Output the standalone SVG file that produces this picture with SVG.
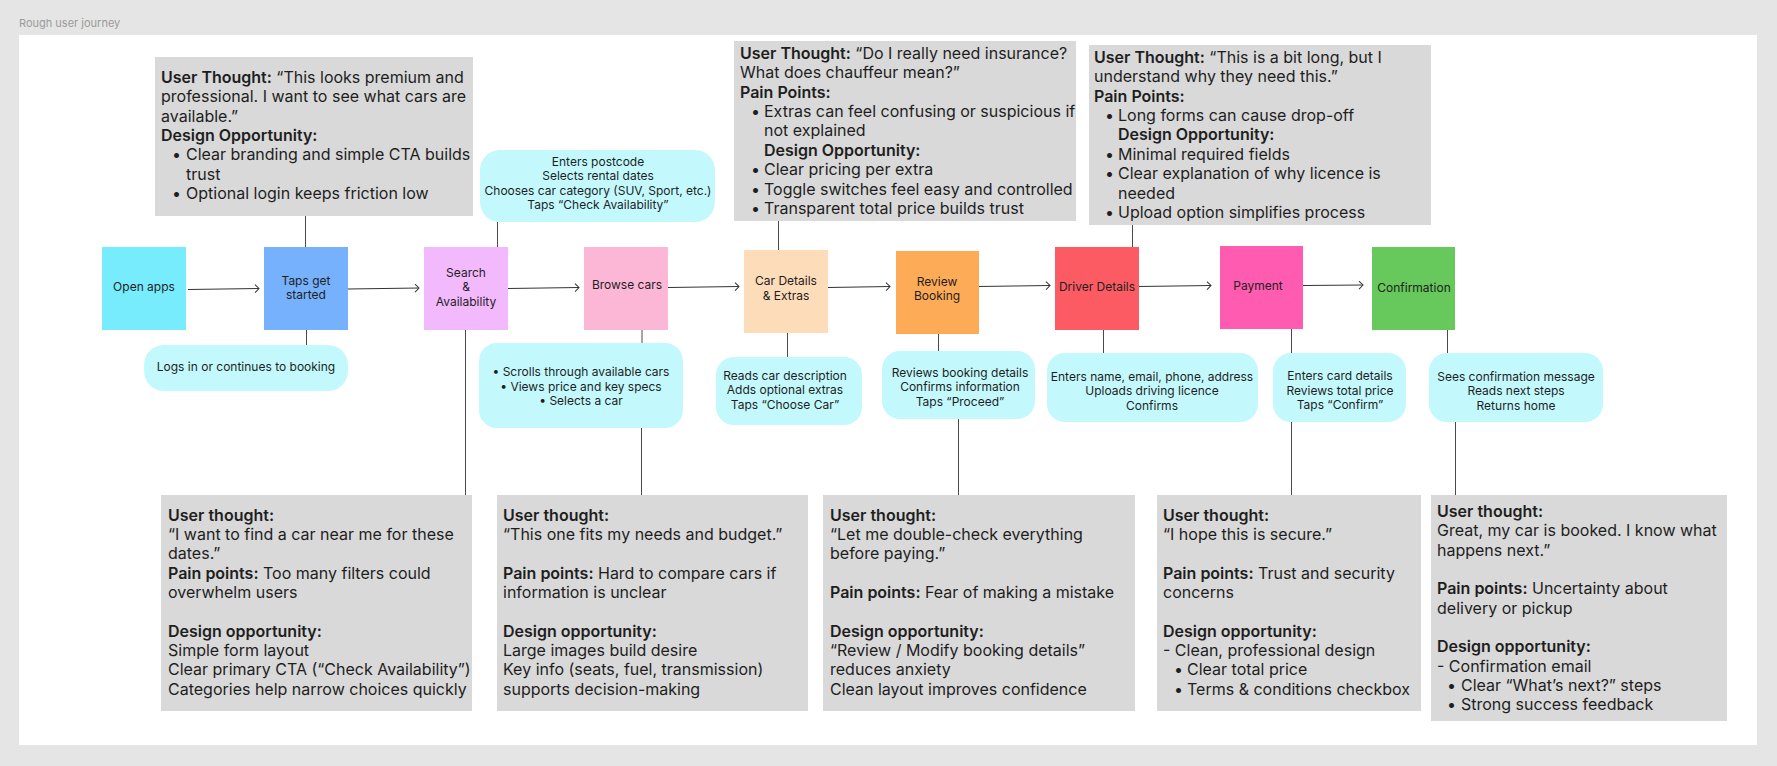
<svg xmlns="http://www.w3.org/2000/svg" width="1777" height="766" viewBox="0 0 1777 766">
<style>
.t{font-family:Inter,"Liberation Sans",sans-serif;fill:#1e1e1e}
.s{font-size:12px;text-anchor:middle}
.m{font-size:16px}
.h{font-weight:600}
.grey{fill:#d9d9d9}
.bub{fill:#c3f9fd}
.con{stroke:#4a4a4a;stroke-width:1;fill:none}
.arr{stroke:#333;stroke-width:1;fill:none;marker-end:url(#ah)}
</style>
<defs>
<marker id="ah" markerUnits="userSpaceOnUse" markerWidth="10" markerHeight="10" refX="5" refY="4.5" orient="auto">
<path d="M1,0.5 L5,4.5 L1,8.5" fill="none" stroke="#333" stroke-width="1"/>
</marker>
</defs>
<rect x="0" y="0" width="1777" height="766" fill="#e5e5e5"/>
<text class="t" x="19" y="27" font-size="11" style="fill:#9b9b9b">Rough user journey</text>
<rect x="19" y="35" width="1738" height="710" fill="#ffffff"/>

<g id="connectors">
<line class="con" x1="305.5" y1="216" x2="305.5" y2="247"/>
<line class="con" x1="306.5" y1="330" x2="306.5" y2="345"/>
<line class="con" x1="497.5" y1="222" x2="497.5" y2="247"/>
<line class="con" x1="465.5" y1="330" x2="465.5" y2="495"/>
<line class="con" x1="642" y1="330" x2="642" y2="343"/>
<line class="con" x1="641.5" y1="428" x2="641.5" y2="495"/>
<line class="con" x1="778.5" y1="221" x2="778.5" y2="250"/>
<line class="con" x1="787.5" y1="333" x2="787.5" y2="357"/>
<line class="con" x1="938.5" y1="334" x2="938.5" y2="351"/>
<line class="con" x1="958.5" y1="419" x2="958.5" y2="495"/>
<line class="con" x1="1132.5" y1="225" x2="1132.5" y2="247"/>
<line class="con" x1="1103.5" y1="330" x2="1103.5" y2="353"/>
<line class="con" x1="1291.5" y1="329" x2="1291.5" y2="353"/>
<line class="con" x1="1291.5" y1="422" x2="1291.5" y2="495"/>
<line class="con" x1="1447.5" y1="330" x2="1447.5" y2="353"/>
<line class="con" x1="1455.5" y1="422" x2="1455.5" y2="495"/>
<path class="arr" d="M188,289.5 L259,288.5"/>
<path class="arr" d="M348,289 L419,288"/>
<path class="arr" d="M508,288.5 L579,287.5"/>
<path class="arr" d="M668,287.5 L739,286.5"/>
<path class="arr" d="M828,287.5 L890,286.5"/>
<path class="arr" d="M979,286.5 L1050,285.5"/>
<path class="arr" d="M1139,286.5 L1211,285.5"/>
<path class="arr" d="M1303,285.5 L1363,285"/>
</g>

<g id="open-apps"><rect x="102" y="247" width="84" height="83" fill="#76ecfd"/>
<text class="t s" x="144" y="291">Open apps</text></g>
<g id="taps-get-started"><rect x="264" y="247" width="84" height="83" fill="#76b1fd"/>
<text class="t s" x="306" y="285">Taps get</text><text class="t s" x="306" y="299">started</text></g>
<g id="search"><rect x="424" y="247" width="84" height="83" fill="#f3b9fd"/>
<text class="t s" x="466" y="277">Search</text><text class="t s" x="466" y="291">&amp;</text><text class="t s" x="466" y="305.5">Availability</text></g>
<g id="browse-cars"><rect x="584" y="247" width="84" height="83" fill="#fcb6d6"/>
<text class="t s" x="627" y="289">Browse cars</text></g>
<g id="car-details"><rect x="744" y="250" width="84" height="83" fill="#fddcb9"/>
<text class="t s" x="786" y="285">Car Details</text><text class="t s" x="786" y="300">&amp; Extras</text></g>
<g id="review-booking"><rect x="896" y="251" width="83" height="83" fill="#fdab57"/>
<text class="t s" x="937" y="286">Review</text><text class="t s" x="937" y="300">Booking</text></g>
<g id="driver-details"><rect x="1055" y="247" width="84" height="83" fill="#fd5b63"/>
<text class="t s" x="1097" y="291">Driver Details</text></g>
<g id="payment"><rect x="1220" y="246" width="83" height="83" fill="#ff5bb1"/>
<text class="t s" x="1258" y="290">Payment</text></g>
<g id="confirmation"><rect x="1372" y="247" width="83" height="83" fill="#67c85b"/>
<text class="t s" x="1414" y="292">Confirmation</text></g>

<g id="bubble-logs"><rect class="bub" x="144" y="345" width="204" height="46" rx="20"/>
<text class="t s" x="246" y="371">Logs in or continues to booking</text></g>
<g id="bubble-search"><rect class="bub" x="480" y="150" width="235" height="72" rx="20"/>
<text class="t s" x="598" y="165.5">Enters postcode</text>
<text class="t s" x="598" y="180">Selects rental dates</text>
<text class="t s" x="598" y="194.5">Chooses car category (SUV, Sport, etc.)</text>
<text class="t s" x="598" y="209">Taps “Check Availability”</text></g>
<g id="bubble-browse"><rect class="bub" x="479" y="343" width="204" height="85" rx="18"/>
<text class="t s" x="581" y="376">•  Scrolls through available cars</text>
<text class="t s" x="581" y="390.5">•  Views price and key specs</text>
<text class="t s" x="581" y="405">•  Selects a car</text></g>
<g id="bubble-car"><rect class="bub" x="716" y="357" width="146" height="68" rx="18"/>
<text class="t s" x="785" y="379.5">Reads car description</text>
<text class="t s" x="785" y="394">Adds optional extras</text>
<text class="t s" x="785" y="408.5">Taps “Choose Car”</text></g>
<g id="bubble-review"><rect class="bub" x="882" y="351" width="153" height="68" rx="18"/>
<text class="t s" x="960" y="376.5">Reviews booking details</text>
<text class="t s" x="960" y="391">Confirms information</text>
<text class="t s" x="960" y="405.5">Taps “Proceed”</text></g>
<g id="bubble-driver"><rect class="bub" x="1047" y="353" width="211" height="69" rx="18"/>
<text class="t s" x="1152" y="380.5">Enters name, email, phone, address</text>
<text class="t s" x="1152" y="395">Uploads driving licence</text>
<text class="t s" x="1152" y="409.5">Confirms</text></g>
<g id="bubble-payment"><rect class="bub" x="1273" y="353" width="133" height="69" rx="18"/>
<text class="t s" x="1340" y="380">Enters card details</text>
<text class="t s" x="1340" y="394.5">Reviews total price</text>
<text class="t s" x="1340" y="409">Taps “Confirm”</text></g>
<g id="bubble-confirmation"><rect class="bub" x="1429" y="353" width="174" height="69" rx="18"/>
<text class="t s" x="1516" y="380.5">Sees confirmation message</text>
<text class="t s" x="1516" y="395">Reads next steps</text>
<text class="t s" x="1516" y="409.5">Returns home</text></g>

<g id="note-taps"><rect class="grey" x="155" y="57" width="318" height="159"/>
<text class="t m" x="161" y="83"><tspan class="h">User Thought:</tspan> “This looks premium and</text>
<text class="t m" x="161" y="102.4">professional. I want to see what cars are</text>
<text class="t m" x="161" y="121.7">available.”</text>
<text class="t m h" x="161" y="141.1">Design Opportunity:</text>
<text class="t m" x="172" y="160.4">•</text><text class="t m" x="186" y="160.4">Clear branding and simple CTA builds</text>
<text class="t m" x="186" y="179.8">trust</text>
<text class="t m" x="172" y="199.2">•</text><text class="t m" x="186" y="199.2">Optional login keeps friction low</text></g>

<g id="note-car"><rect class="grey" x="734" y="41" width="342" height="180"/>
<text class="t m" x="740" y="59"><tspan class="h">User Thought:</tspan> “Do I really need insurance?</text>
<text class="t m" x="740" y="78.4">What does chauffeur mean?”</text>
<text class="t m h" x="740" y="97.7">Pain Points:</text>
<text class="t m" x="751" y="117.1">•</text><text class="t m" x="764" y="117.1">Extras can feel confusing or suspicious if</text>
<text class="t m" x="764" y="136.4">not explained</text>
<text class="t m h" x="764" y="155.8">Design Opportunity:</text>
<text class="t m" x="751" y="175.2">•</text><text class="t m" x="764" y="175.2">Clear pricing per extra</text>
<text class="t m" x="751" y="194.5">•</text><text class="t m" x="764" y="194.5">Toggle switches feel easy and controlled</text>
<text class="t m" x="751" y="213.9">•</text><text class="t m" x="764" y="213.9">Transparent total price builds trust</text></g>

<g id="note-driver"><rect class="grey" x="1089" y="45" width="342" height="180"/>
<text class="t m" x="1094" y="63"><tspan class="h">User Thought:</tspan> “This is a bit long, but I</text>
<text class="t m" x="1094" y="82.4">understand why they need this.”</text>
<text class="t m h" x="1094" y="101.7">Pain Points:</text>
<text class="t m" x="1105" y="121.1">•</text><text class="t m" x="1118" y="121.1">Long forms can cause drop-off</text>
<text class="t m h" x="1118" y="140.4">Design Opportunity:</text>
<text class="t m" x="1105" y="159.8">•</text><text class="t m" x="1118" y="159.8">Minimal required fields</text>
<text class="t m" x="1105" y="179.2">•</text><text class="t m" x="1118" y="179.2">Clear explanation of why licence is</text>
<text class="t m" x="1118" y="198.5">needed</text>
<text class="t m" x="1105" y="217.9">•</text><text class="t m" x="1118" y="217.9">Upload option simplifies process</text></g>

<g id="note-search"><rect class="grey" x="161" y="495" width="311" height="216"/>
<text class="t m h" x="168" y="520.5">User thought:</text>
<text class="t m" x="168" y="539.9">“I want to find a car near me for these</text>
<text class="t m" x="168" y="559.2">dates.”</text>
<text class="t m" x="168" y="578.6"><tspan class="h">Pain points:</tspan> Too many filters could</text>
<text class="t m" x="168" y="597.9">overwhelm users</text>
<text class="t m h" x="168" y="636.7">Design opportunity:</text>
<text class="t m" x="168" y="656">Simple form layout</text>
<text class="t m" x="168" y="675.4">Clear primary CTA (“Check Availability”)</text>
<text class="t m" x="168" y="694.7">Categories help narrow choices quickly</text></g>

<g id="note-browse"><rect class="grey" x="497" y="495" width="311" height="216"/>
<text class="t m h" x="503" y="520.5">User thought:</text>
<text class="t m" x="503" y="539.9">“This one fits my needs and budget.”</text>
<text class="t m" x="503" y="578.6"><tspan class="h">Pain points:</tspan> Hard to compare cars if</text>
<text class="t m" x="503" y="597.9">information is unclear</text>
<text class="t m h" x="503" y="636.7">Design opportunity:</text>
<text class="t m" x="503" y="656">Large images build desire</text>
<text class="t m" x="503" y="675.4">Key info (seats, fuel, transmission)</text>
<text class="t m" x="503" y="694.7">supports decision-making</text></g>

<g id="note-review"><rect class="grey" x="823" y="495" width="312" height="216"/>
<text class="t m h" x="830" y="520.5">User thought:</text>
<text class="t m" x="830" y="539.9">“Let me double-check everything</text>
<text class="t m" x="830" y="559.2">before paying.”</text>
<text class="t m" x="830" y="597.9"><tspan class="h">Pain points:</tspan> Fear of making a mistake</text>
<text class="t m h" x="830" y="636.7">Design opportunity:</text>
<text class="t m" x="830" y="656">“Review / Modify booking details”</text>
<text class="t m" x="830" y="675.4">reduces anxiety</text>
<text class="t m" x="830" y="694.7">Clean layout improves confidence</text></g>

<g id="note-payment"><rect class="grey" x="1157" y="495" width="264" height="216"/>
<text class="t m h" x="1163" y="520.5">User thought:</text>
<text class="t m" x="1163" y="539.9">“I hope this is secure.”</text>
<text class="t m" x="1163" y="578.6"><tspan class="h">Pain points:</tspan> Trust and security</text>
<text class="t m" x="1163" y="597.9">concerns</text>
<text class="t m h" x="1163" y="636.7">Design opportunity:</text>
<text class="t m" x="1163" y="656">- Clean, professional design</text>
<text class="t m" x="1174" y="675.4">•</text><text class="t m" x="1187" y="675.4">Clear total price</text>
<text class="t m" x="1174" y="694.7">•</text><text class="t m" x="1187" y="694.7">Terms &amp; conditions checkbox</text></g>

<g id="note-confirmation"><rect class="grey" x="1431" y="495" width="296" height="226"/>
<text class="t m h" x="1437" y="516.8">User thought:</text>
<text class="t m" x="1437" y="536.2">Great, my car is booked. I know what</text>
<text class="t m" x="1437" y="555.5">happens next.”</text>
<text class="t m" x="1437" y="594.2"><tspan class="h">Pain points:</tspan> Uncertainty about</text>
<text class="t m" x="1437" y="613.6">delivery or pickup</text>
<text class="t m h" x="1437" y="652.3">Design opportunity:</text>
<text class="t m" x="1437" y="671.7">- Confirmation email</text>
<text class="t m" x="1447" y="691">•</text><text class="t m" x="1461" y="691">Clear “What’s next?” steps</text>
<text class="t m" x="1447" y="710.4">•</text><text class="t m" x="1461" y="710.4">Strong success feedback</text></g>
</svg>
